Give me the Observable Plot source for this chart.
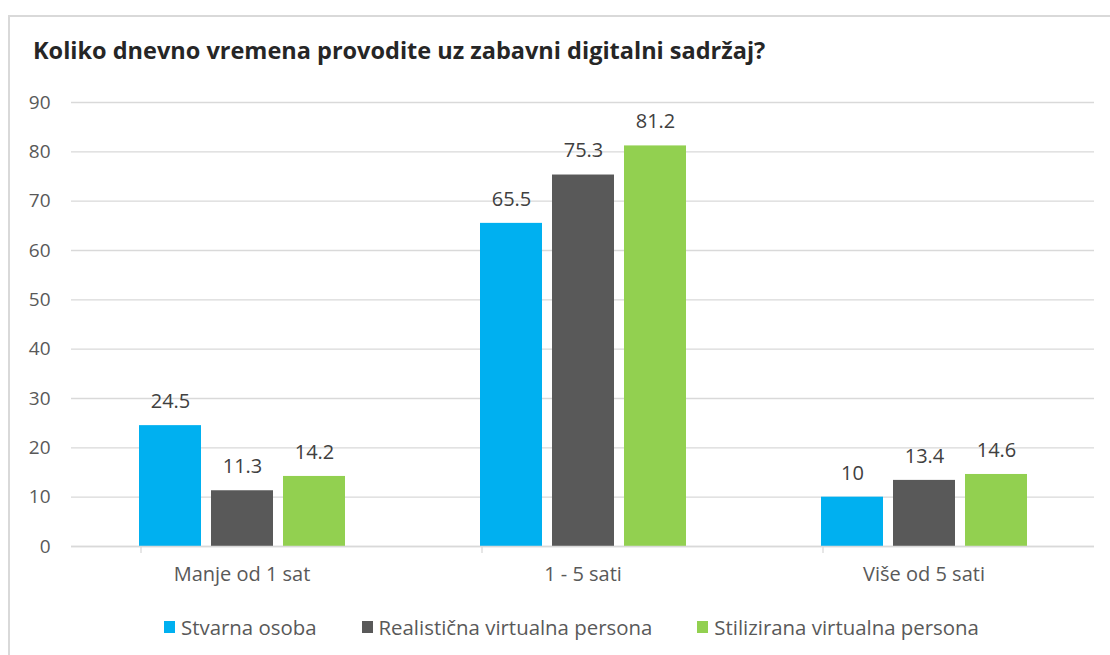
<!DOCTYPE html>
<html>
<head>
<meta charset="utf-8">
<script src="https://cdn.jsdelivr.net/npm/d3@7"></script>
<script src="https://cdn.jsdelivr.net/npm/@observablehq/plot@0.6"></script>
<style>
  html, body { margin: 0; padding: 0; background: #fff; overflow: hidden; }
  body { width: 1110px; height: 655px; position: relative; font-family: "Open Sans", sans-serif; }
  #frame { position: absolute; left: 8px; top: 15px; width: 1200px; height: 700px; border: 2px solid #d9d9d9; box-sizing: border-box; }
  #title { position: absolute; left: 33px; top: 34px; font-size: 23.5px; font-weight: bold; color: #262626; white-space: nowrap; }
  #chart { position: absolute; left: 0; top: 80px; }
  #legend { position: absolute; left: 164px; top: 613px; display: flex; align-items: center; font-size: 20.4px; color: #595959; white-space: nowrap; }
  .item { display: flex; align-items: center; margin-right: 45px; }
  .sw { width: 11px; height: 12px; margin-right: 6px; }
</style>
</head>
<body>
<div id="frame"></div>
<div id="title">Koliko dnevno vremena provodite uz zabavni digitalni sadržaj?</div>
<div id="chart"></div>
<div id="legend"></div>
<script>
const groups = ["Manje od 1 sat", "1 - 5 sati", "Više od 5 sati"];
const series = ["Stvarna osoba", "Realistična virtualna persona", "Stilizirana virtualna persona"];
const stvarnaOsoba = [24.5, 65.5, 10];
const realisticnaPersona = [11.3, 75.3, 13.4];
const stiliziranaPersona = [14.2, 81.2, 14.6];
const yTicks = [0, 10, 20, 30, 40, 50, 60, 70, 80, 90];
const colors = ["#00B0F0", "#595959", "#92D050"];

const seriesValues = [stvarnaOsoba, realisticnaPersona, stiliziranaPersona];
const data = [];
groups.forEach((g, gi) => {
  series.forEach((s, si) => {
    data.push({group: g, series: s, value: seriesValues[si][gi]});
  });
});

const plot = Plot.plot({
  width: 1110,
  height: 530,
  marginLeft: 70,
  marginRight: 15,
  marginTop: 22,
  marginBottom: 64,
  style: {fontFamily: "'Open Sans', sans-serif", background: "transparent", overflow: "visible"},
  fx: {domain: groups, padding: 0, label: null},
  x: {domain: series, paddingInner: 0.145, paddingOuter: 0.93, axis: null},
  y: {domain: [0, 90], label: null},
  color: {domain: series, range: colors},
  marks: [
    Plot.gridY(yTicks, {stroke: "#d9d9d9", strokeOpacity: 1, strokeWidth: 1.3}),
    Plot.axisY(yTicks, {tickSize: 0, tickPadding: 21, fontSize: 19, color: "#595959", label: null}),
    Plot.barY(data, {fx: "group", x: "series", y: "value", fill: "series"}),
    Plot.ruleY([0], {stroke: "#d9d9d9", strokeWidth: 1.3}),
    Plot.text(data, {fx: "group", x: "series", y: "value", text: d => String(d.value), dy: -24, fontSize: 20, fill: "#404040", lineAnchor: "middle"}),
    Plot.axisFx({anchor: "bottom", tickSize: 0, tickPadding: 20, fontSize: 20, color: "#595959", label: null})
  ]
});
document.getElementById("chart").appendChild(plot);

// group boundary tick marks, positioned from Plot's fx scale
const fx = plot.scale("fx");
const yScale = plot.scale("y");
const y0 = yScale.apply(0);
const svg = d3.select(plot);
const bounds = groups.map(g => fx.apply(g));
bounds.push(fx.apply(groups[groups.length - 1]) + fx.bandwidth);
svg.append("g").selectAll("line").data(bounds).join("line")
  .attr("x1", d => 70 + d).attr("x2", d => 70 + d)
  .attr("y1", y0).attr("y2", y0 + 7)
  .attr("stroke", "#d9d9d9").attr("stroke-width", 1.3);

const legend = document.getElementById("legend");
series.forEach((s, i) => {
  const item = document.createElement("div");
  item.className = "item";
  const sw = document.createElement("div");
  sw.className = "sw";
  sw.style.background = colors[i];
  const t = document.createElement("span");
  t.textContent = s;
  item.appendChild(sw);
  item.appendChild(t);
  legend.appendChild(item);
});
</script>
</body>
</html>
